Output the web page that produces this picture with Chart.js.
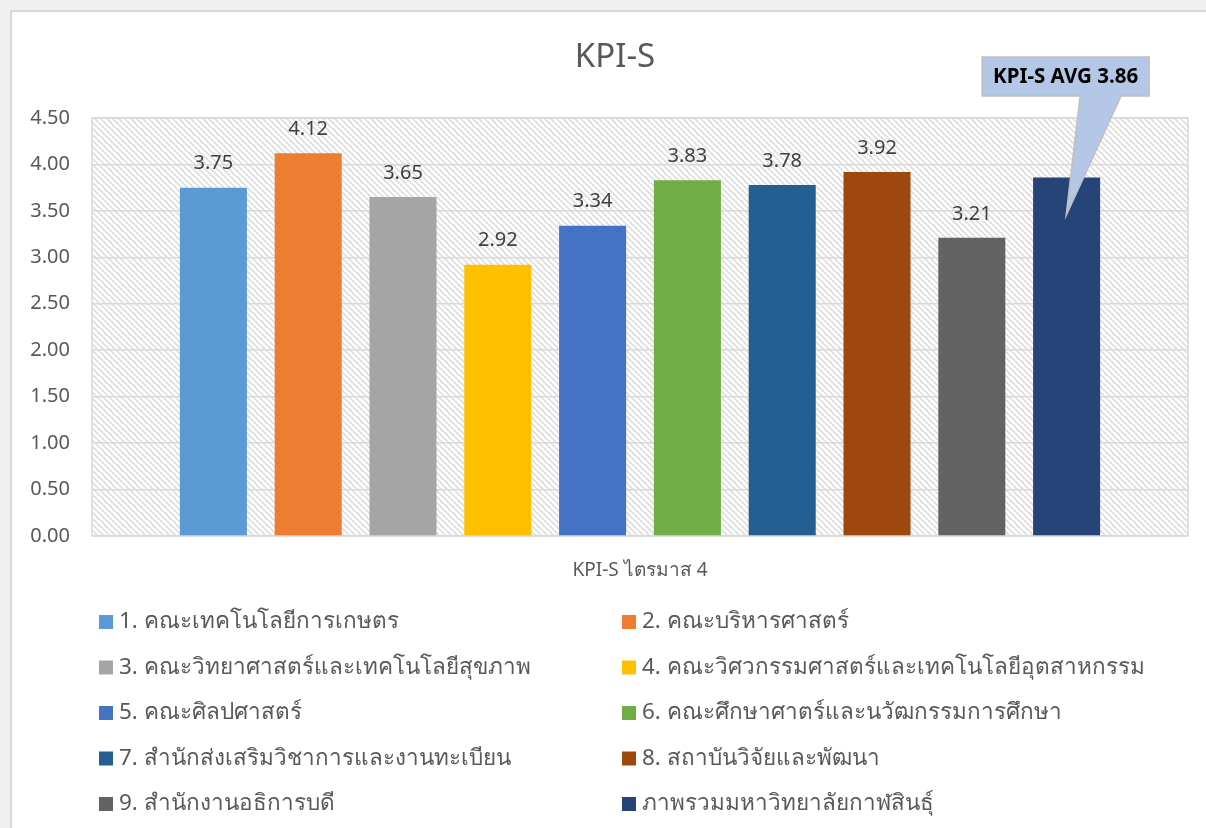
<!DOCTYPE html>
<html>
<head>
<meta charset="utf-8">
<script src="https://cdn.jsdelivr.net/npm/chart.js@4/dist/chart.umd.min.js"></script>
<style>
    html, body { margin: 0; padding: 0; background: #f0f0f0; overflow: hidden; }
    #panel { position: absolute; left: 10px; top: 10px; width: 1300px; height: 900px; background: #fff; border: 2px solid #d9d9d9; }
    #wrap { position: absolute; left: 0; top: 0; width: 1206px; height: 828px; }
</style>
</head>
<body>
<div id="panel"></div>
<div id="wrap"><canvas id="grafico" width="1206" height="828"></canvas></div>
<script>
const categorias = ['KPI-S ไตรมาส 4'];
const unidades = [
    '1. คณะเทคโนโลยีการเกษตร',
    '2. คณะบริหารศาสตร์',
    '3. คณะวิทยาศาสตร์และเทคโนโลยีสุขภาพ',
    '4. คณะวิศวกรรมศาสตร์และเทคโนโลยีอุตสาหกรรม',
    '5. คณะศิลปศาสตร์',
    '6. คณะศึกษาศาตร์และนวัฒกรรมการศึกษา',
    '7. สำนักส่งเสริมวิชาการและงานทะเบียน',
    '8. สถาบันวิจัยและพัฒนา',
    '9. สำนักงานอธิการบดี',
    'ภาพรวมมหาวิทยาลัยกาฬสินธุ์'
];
const valores = [3.75, 4.12, 3.65, 2.92, 3.34, 3.83, 3.78, 3.92, 3.21, 3.86];
const colores = ['#5b9bd5', '#ed7d31', '#a5a5a5', '#ffc000', '#4472c4', '#70ad47', '#255e91', '#9e480e', '#636363', '#264478'];
const ticksY = [0, 0.5, 1, 1.5, 2, 2.5, 3, 3.5, 4, 4.5];
const titulo = 'KPI-S';
const textoPromedio = 'KPI-S AVG 3.86';
const valorPuntaPromedio = 3.45;

(function () {
    const FUENTE = "'Noto Sans', 'Open Sans', sans-serif";
    const canvas = document.querySelector('#grafico');
    const ctx = canvas.getContext('2d');

    function crearTrama() {
        const c = document.createElement('canvas');
        c.width = 6;
        c.height = 6;
        const g = c.getContext('2d');
        g.fillStyle = '#ffffff';
        g.fillRect(0, 0, 6, 6);
        g.strokeStyle = '#dedede';
        g.lineWidth = 1.6;
        g.beginPath();
        g.moveTo(-1, -1); g.lineTo(7, 7);
        g.moveTo(-1, 5); g.lineTo(1, 7);
        g.moveTo(5, -1); g.lineTo(7, 1);
        g.stroke();
        return ctx.createPattern(c, 'repeat');
    }
    const trama = crearTrama();

    // fondo del area de trazado (trama + borde)
    const fondoPlot = {
        id: 'fondoPlot',
        beforeDraw(chart) {
            const a = chart.chartArea;
            const c = chart.ctx;
            c.save();
            c.fillStyle = trama;
            c.fillRect(a.left, a.top, a.right - a.left, a.bottom - a.top);
            c.strokeStyle = '#d9d9d9';
            c.lineWidth = 1.5;
            c.strokeRect(a.left, a.top, a.right - a.left, a.bottom - a.top);
            c.restore();
        }
    };

    // titulo, etiquetas, globo del promedio y leyenda
    const extras = {
        id: 'extras',
        afterDraw(chart) {
            const c = chart.ctx;
            c.save();

            c.fillStyle = '#595959';
            c.font = `33px ${FUENTE}`;
            c.textAlign = 'center';
            c.textBaseline = 'middle';
            c.fillText(titulo, 615, 58);

            c.font = `20px ${FUENTE}`;
            c.fillStyle = '#404040';
            const ultimo = chart.data.datasets.length - 1;
            chart.data.datasets.forEach((ds, i) => {
                if (i === ultimo) return;
                const bar = chart.getDatasetMeta(i).data[0];
                c.fillText(ds.data[0].toFixed(2), bar.x, bar.y - 24);
            });

            // globo
            const barProm = chart.getDatasetMeta(ultimo).data[0];
            const tx = barProm.x - 0.5;
            const ty = chart.scales.y.getPixelForValue(valorPuntaPromedio);
            const bx1 = tx - 84, bx2 = tx + 83, by1 = 57, by2 = 96;
            c.beginPath();
            c.moveTo(bx1, by1);
            c.lineTo(bx2, by1);
            c.lineTo(bx2, by2);
            c.lineTo(tx + 55, by2);
            c.lineTo(tx, ty);
            c.lineTo(tx + 14, by2);
            c.lineTo(bx1, by2);
            c.closePath();
            c.fillStyle = '#b4c7e7';
            c.fill();
            c.strokeStyle = '#bfbfbf';
            c.lineWidth = 1.5;
            c.stroke();
            c.fillStyle = '#000000';
            c.font = `bold 20.5px ${FUENTE}`;
            c.fillText(textoPromedio, (bx1 + bx2) / 2, (by1 + by2) / 2 + 1);

            // leyenda en dos columnas
            c.font = `22.5px ${FUENTE}`;
            c.textAlign = 'left';
            chart.data.datasets.forEach((ds, i) => {
                const col = i % 2;
                const fila = Math.floor(i / 2);
                const x = col === 0 ? 99 : 622;
                const y = 622 + fila * 45.5;
                c.fillStyle = ds.backgroundColor;
                c.fillRect(x, y - 7, 14, 14);
                c.fillStyle = '#595959';
                c.fillText(ds.label, x + 20, y);
            });

            c.restore();
        }
    };

    const datasets = unidades.map((nombre, i) => ({
        label: nombre,
        data: [valores[i]],
        backgroundColor: colores[i],
        categoryPercentage: 0.865,
        barPercentage: 0.707
    }));

    new Chart(ctx, {
        type: 'bar',
        data: {
            labels: categorias,
            datasets: datasets
        },
        options: {
            responsive: false,
            animation: false,
            layout: {
                padding: { left: 0, right: 18, top: 118, bottom: 242 }
            },
            scales: {
                x: {
                    grid: { display: false },
                    border: { display: false },
                    ticks: {
                        color: '#595959',
                        padding: 15,
                        font: { family: FUENTE, size: 19 }
                    },
                    afterFit(scale) { scale.height = 50; }
                },
                y: {
                    min: 0,
                    max: 4.5,
                    afterBuildTicks(scale) {
                        scale.ticks = ticksY.map(v => ({ value: v }));
                    },
                    grid: { color: '#d9d9d9', lineWidth: 1.5, drawTicks: false },
                    border: { display: false },
                    ticks: {
                        color: '#595959',
                        padding: 22,
                        font: { family: FUENTE, size: 20 },
                        callback: v => Number(v).toFixed(2)
                    },
                    afterFit(scale) { scale.width = 92; }
                }
            },
            plugins: {
                legend: { display: false },
                title: { display: false },
                tooltip: { enabled: false }
            }
        },
        plugins: [fondoPlot, extras]
    });
})();
</script>
</body>
</html>
